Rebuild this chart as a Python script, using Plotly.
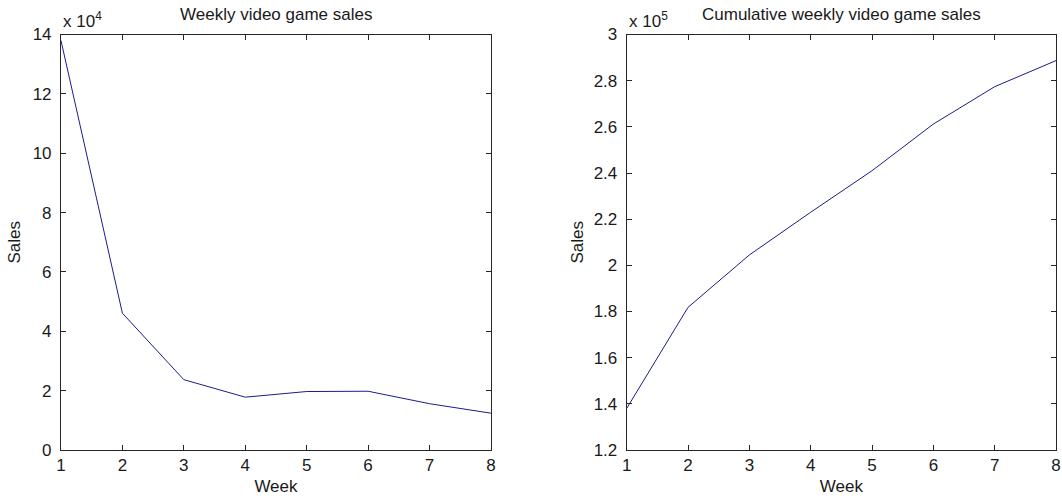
import plotly.graph_objects as go
from plotly.subplots import make_subplots

weeks = [1, 2, 3, 4, 5, 6, 7, 8]
weekly_sales = [138000, 46100, 23700, 17800, 19700, 19800, 15600, 12400]
cumulative_sales = [138000, 181800, 204500, 223000, 241000, 261200, 277400, 288700]

left_ytickvals = [0, 20000, 40000, 60000, 80000, 100000, 120000, 140000]
left_yticktext = ["0", "2", "4", "6", "8", "10", "12", "14"]
right_ytickvals = [120000, 140000, 160000, 180000, 200000, 220000, 240000, 260000, 280000, 300000]
right_yticktext = ["1.2", "1.4", "1.6", "1.8", "2", "2.2", "2.4", "2.6", "2.8", "3"]
xtickvals = [1, 2, 3, 4, 5, 6, 7, 8]

FONT = "Liberation Sans, Arial, Helvetica, sans-serif"
LINE = "#1c1c8a"
TXT = "#1a1a1a"
FS = 17

fig = make_subplots(rows=1, cols=2)
fig.add_trace(go.Scatter(x=weeks, y=weekly_sales, mode="lines",
                         line=dict(color=LINE, width=1), showlegend=False), 1, 1)
fig.add_trace(go.Scatter(x=weeks, y=cumulative_sales, mode="lines",
                         line=dict(color=LINE, width=1), showlegend=False), 1, 2)

axis_common = dict(showline=True, linecolor="#262626", linewidth=1, mirror="ticks",
                   ticks="inside", ticklen=5, tickcolor="#262626", tickwidth=1,
                   showgrid=False, zeroline=False, automargin=False,
                   tickfont=dict(family=FONT, size=FS, color=TXT))

ydom = [0.1, 0.931]
title_font = dict(family=FONT, size=FS, color=TXT)
fig.update_xaxes(domain=[0.0574, 0.4623], range=[1, 8], tickvals=xtickvals, ticklabelstandoff=0,
                 title=dict(text="Week", font=title_font, standoff=5),
                 row=1, col=1, **axis_common)
fig.update_xaxes(domain=[0.5901, 0.9944], range=[1, 8], tickvals=xtickvals, ticklabelstandoff=0,
                 title=dict(text="Week", font=title_font, standoff=5),
                 row=1, col=2, **axis_common)
fig.update_yaxes(domain=ydom, range=[0, 140000], tickvals=left_ytickvals, ticktext=left_yticktext,
                 ticklabelstandoff=5,
                 title=dict(text="Sales", font=title_font, standoff=7),
                 row=1, col=1, **axis_common)
fig.update_yaxes(domain=ydom, range=[120000, 300000], tickvals=right_ytickvals, ticktext=right_yticktext,
                 ticklabelstandoff=5,
                 title=dict(text="Sales", font=title_font, standoff=5),
                 row=1, col=2, **axis_common)

ann_font = dict(family=FONT, size=FS, color=TXT)
fig.add_annotation(text="Weekly video game sales", x=0.2599, y=0.931, xref="paper", yref="paper",
                   xanchor="center", yanchor="bottom", yshift=8, showarrow=False, font=ann_font)
fig.add_annotation(text="Cumulative weekly video game sales", x=0.7922, y=0.931, xref="paper", yref="paper",
                   xanchor="center", yanchor="bottom", yshift=8, showarrow=False, font=ann_font)
fig.add_annotation(text="x 10<sup>4</sup>", x=0.0574, y=0.931, xref="paper", yref="paper",
                   xanchor="left", yanchor="bottom", yshift=1, showarrow=False, font=ann_font)
fig.add_annotation(text="x 10<sup>5</sup>", x=0.5901, y=0.931, xref="paper", yref="paper",
                   xanchor="left", yanchor="bottom", yshift=1, showarrow=False, font=ann_font)

fig.update_layout(width=1062, height=500, margin=dict(l=0, r=0, t=0, b=0),
                  paper_bgcolor="white", plot_bgcolor="white",
                  font=dict(family=FONT, size=FS, color=TXT))

fig.write_html("out.html")
